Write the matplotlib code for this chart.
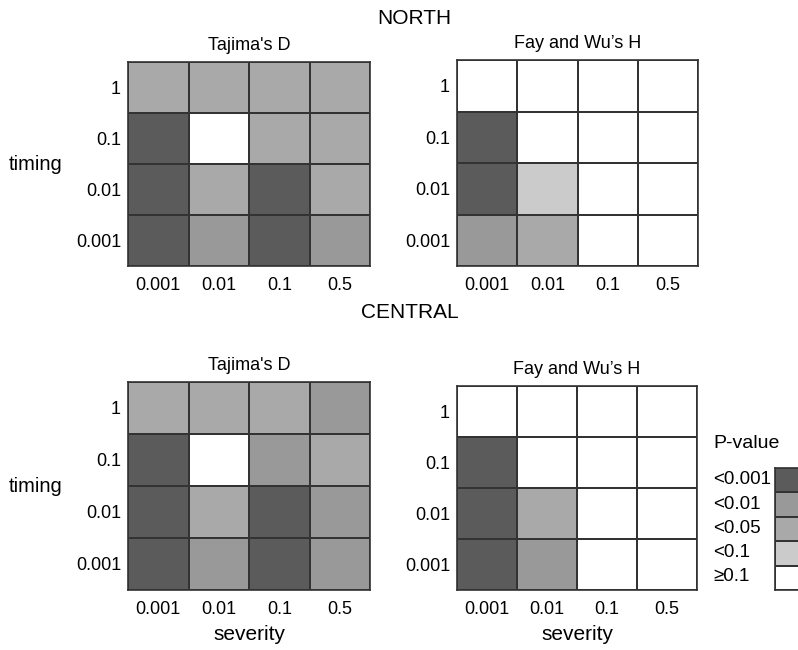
import matplotlib.pyplot as plt
from matplotlib.colors import ListedColormap, BoundaryNorm
import numpy as np

plt.rcParams['font.family'] = ['Liberation Sans', 'DejaVu Sans']

# p-value classes: 0 '<0.001', 1 '<0.01', 2 '<0.05', 3 '<0.1', 4 '>=0.1'
severity = ['0.001', '0.01', '0.1', '0.5']
timing = ['0.001', '0.01', '0.1', '1']   # bottom to top
p_labels = ['<0.001', '<0.01', '<0.05', '<0.1', '\u22650.1']
p_colors = ['#5b5b5b', '#999999', '#a9a9a9', '#cbcbcb', '#ffffff']

# rows listed bottom (timing 0.001) to top (timing 1)
north_tajima = [[0, 1, 0, 1],
                [0, 2, 0, 2],
                [0, 4, 2, 2],
                [2, 2, 2, 2]]
north_faywu = [[1, 2, 4, 4],
               [0, 3, 4, 4],
               [0, 4, 4, 4],
               [4, 4, 4, 4]]
central_tajima = [[0, 1, 0, 1],
                  [0, 2, 0, 1],
                  [0, 4, 1, 2],
                  [2, 2, 2, 1]]
central_faywu = [[0, 1, 4, 4],
                 [0, 2, 4, 4],
                 [0, 4, 4, 4],
                 [4, 4, 4, 4]]

cmap = ListedColormap(p_colors)
norm = BoundaryNorm(np.arange(-0.5, 5.5, 1), cmap.N)

W, H = 798, 650
fig = plt.figure(figsize=(W / 100, H / 100), dpi=100)


def px_axes(x0, y0, x1, y1):
    return fig.add_axes([x0 / W, 1 - y1 / H, (x1 - x0) / W, (y1 - y0) / H])


def grid_panel(ax, data, title, xlab=None):
    ax.pcolormesh(np.array(data), cmap=cmap, norm=norm,
                  edgecolors='#333333', linewidth=1.2)
    ax.set_xticks(np.arange(4) + 0.5)
    ax.set_xticklabels(severity, fontsize=13)
    ax.set_yticks(np.arange(4) + 0.5)
    ax.set_yticklabels(timing, fontsize=13)
    ax.tick_params(axis='x', length=0, pad=8)
    ax.tick_params(axis='y', length=0, pad=5)
    for s in ax.spines.values():
        s.set_color('#333333')
        s.set_linewidth(1.2)
    ax.set_title(title, fontsize=13, pad=9)
    if xlab:
        ax.set_xlabel(xlab, fontsize=15, labelpad=5)


ax1 = px_axes(128, 62, 370, 266)
grid_panel(ax1, north_tajima, "Tajima's D")
ax2 = px_axes(457, 60, 698, 266)
grid_panel(ax2, north_faywu, "Fay and Wu\u2019s H")
ax3 = px_axes(128, 382, 370, 590)
grid_panel(ax3, central_tajima, "Tajima's D", xlab='severity')
ax4 = px_axes(457, 386, 697, 590)
grid_panel(ax4, central_faywu, "Fay and Wu\u2019s H", xlab='severity')

fig.text(9 / W, 1 - 165 / H, 'timing', fontsize=14.5, ha='left', va='center')
fig.text(9 / W, 1 - 487 / H, 'timing', fontsize=14.5, ha='left', va='center')

fig.text(414 / W, 1 - 18 / H, 'NORTH', fontsize=15, ha='center', va='center')
fig.text(410 / W, 1 - 312 / H, 'CENTRAL', fontsize=15, ha='center', va='center')

# legend
lax = px_axes(775, 468, 830, 590)
lax.pcolormesh(np.arange(5)[::-1].reshape(-1, 1), cmap=cmap, norm=norm,
               edgecolors='#333333', linewidth=1.2)
lax.set_xticks([])
lax.set_yticks([])
for s in lax.spines.values():
    s.set_color('#333333')
    s.set_linewidth(1.2)
fig.text(713 / W, 1 - 443 / H, 'P-value', fontsize=14, ha='left', va='center')
for i, lab in enumerate(p_labels):
    yc = 480 + i * 24.2
    fig.text(713 / W, 1 - yc / H, lab, fontsize=13.5, ha='left', va='center')

fig.savefig('out.png', dpi=100)
